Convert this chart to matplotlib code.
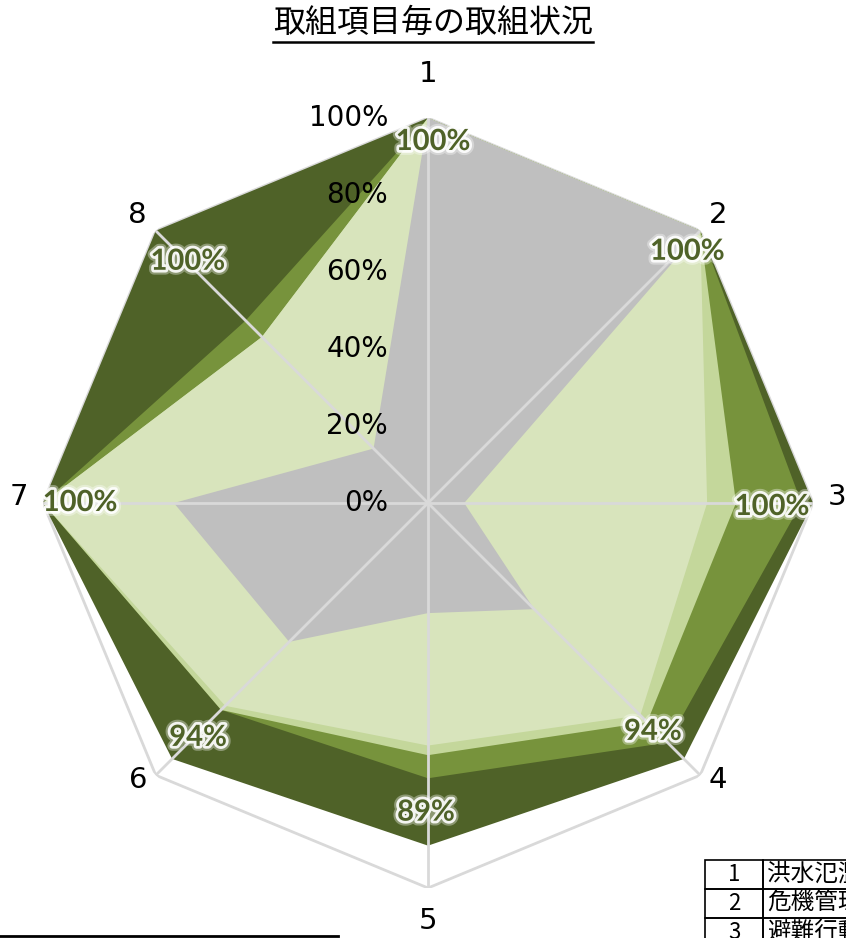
import numpy as np
import matplotlib
matplotlib.use("Agg")
from matplotlib import pyplot as plt
from matplotlib import patheffects as pe
from matplotlib.lines import Line2D
from matplotlib.patches import Rectangle
import matplotlib.transforms as mtransforms

plt.rcParams['font.family'] = ['DejaVu Sans', 'Noto Sans CJK JP']

title = "取組項目毎の取組状況"
cats = ['1', '2', '3', '4', '5', '6', '7', '8']

# series, outermost first (each drawn as its own filled radar)
total = [1.00, 1.00, 1.00, 0.94, 0.89, 0.94, 1.00, 1.00]
seriesB = [1.00, 1.00, 0.97, 0.88, 0.715, 0.76, 1.00, 0.67]
seriesC = [1.00, 1.00, 0.80, 0.805, 0.655, 0.76, 1.00, 0.61]
seriesD = [1.00, 1.00, 0.725, 0.78, 0.63, 0.745, 1.00, 0.61]
seriesE = [1.00, 1.00, 0.094, 0.39, 0.286, 0.51, 0.66, 0.20]
dataLabels = ['100%', '100%', '100%', '94%', '89%', '94%', '100%', '100%']

rticks = [0, 0.2, 0.4, 0.6, 0.8, 1.0]
rtickLabels = ['0%', '20%', '40%', '60%', '80%', '100%']

tableNums = ['1', '2', '3']
tableTexts = ['洪水氾濫の危険性', '危機管理型水位計', '避難行動の支援']

colors = ['#4F6228', '#77933C', '#C4D79B', '#D8E4BC', '#BFBFBF']
gridColor = '#D9D9D9'

W, H = 846, 938
fig = plt.figure(figsize=(W/100, H/100), dpi=100)

cx, cy, R = 428, 503, 385
ax = fig.add_axes([(cx-R)/W, (H-cy-R)/H, 2*R/W, 2*R/H], projection='polar')
ax.set_theta_zero_location('N')
ax.set_theta_direction(-1)
ax.set_ylim(0, 1)
ax.grid(False)
ax.spines['polar'].set_visible(False)
ax.set_xticks([])
ax.set_yticks([])
ax.patch.set_alpha(0)

n = len(cats)
angles = np.arange(n) * 2*np.pi/n
closedAngles = np.append(angles, angles[0])

def closed(vals):
    return np.append(vals, vals[0])

# outer ring
ax.plot(closedAngles, closed([1.0]*n), color=gridColor, lw=2, zorder=1)

for i, s in enumerate([total, seriesB, seriesC, seriesD, seriesE]):
    ax.fill(closedAngles, closed(s), color=colors[i], lw=0, zorder=2+i)

# spokes
for a in angles:
    ax.plot([a, a], [0, 1], color=gridColor, lw=2, zorder=10)

# radial tick labels
trans = mtransforms.offset_copy(ax.transData, fig=fig, x=-40, y=0, units='dots')
for r, lab in zip(rticks, rtickLabels):
    ax.text(0, r, lab, transform=trans, ha='right', va='center', fontsize=20,
            color='black', zorder=12)

# category labels (pixel offsets from the 100% vertex)
catOffsets = [(0, 44), (18, 16), (24, 6), (18, -5), (0, -33), (-18, -5), (-24, 6), (-18, 16)]
for a, c, off in zip(angles, cats, catOffsets):
    ax.annotate(c, xy=(a, 1.0), xytext=off, textcoords='offset pixels',
                ha='center', va='center', fontsize=21, color='black',
                annotation_clip=False)

# data labels on the outer series
labelOffsets = [(5, -24), (-13, -21), (-41, -4), (-31, 27), (-2, 33), (26, 21), (37, 0), (32, -31)]
glow = [pe.withStroke(linewidth=7, foreground='white', alpha=0.35),
        pe.withStroke(linewidth=4, foreground='white', alpha=0.9)]
for a, v, lab, off in zip(angles, total, dataLabels, labelOffsets):
    ax.annotate(lab, xy=(a, v), xytext=off, textcoords='offset pixels',
                ha='center', va='center', fontsize=21, fontweight='bold',
                family='Lato', color='#4F6228', zorder=15, path_effects=glow)

# title with underline
fig.text(433/W, 1-23/H, title, ha='center', va='center', fontsize=23,
         family=['Noto Sans CJK JP', 'DejaVu Sans'])
fig.add_artist(Line2D([273/W, 593/W], [1-42/H, 1-42/H], color='black', lw=1.8))

# bottom-left rule
fig.add_artist(Line2D([0, 338/W], [1-936/H, 1-936/H], color='black', lw=2))

# table (cut by the figure edge, as in the source)
top, rowH = 860, 29
x0, xDiv = 705, 763
for i, (num, txt) in enumerate(zip(tableNums, tableTexts)):
    y = top + i*rowH
    fig.add_artist(Rectangle((x0/W, 1-(y+rowH)/H), (xDiv-x0)/W, rowH/H,
                             fill=False, ec='black', lw=1.2))
    fig.add_artist(Rectangle((xDiv/W, 1-(y+rowH)/H), (W+10-xDiv)/W, rowH/H,
                             fill=False, ec='black', lw=1.2))
    fig.text((x0+xDiv)/2/W, 1-(y+rowH/2)/H, num, ha='center', va='center',
             fontsize=16, family=['Noto Sans CJK JP', 'DejaVu Sans'])
    fig.text((xDiv+4)/W, 1-(y+rowH/2)/H, txt, ha='left', va='center',
             fontsize=17, family=['Noto Sans CJK JP', 'DejaVu Sans'])

fig.savefig('out.png', dpi=100)
